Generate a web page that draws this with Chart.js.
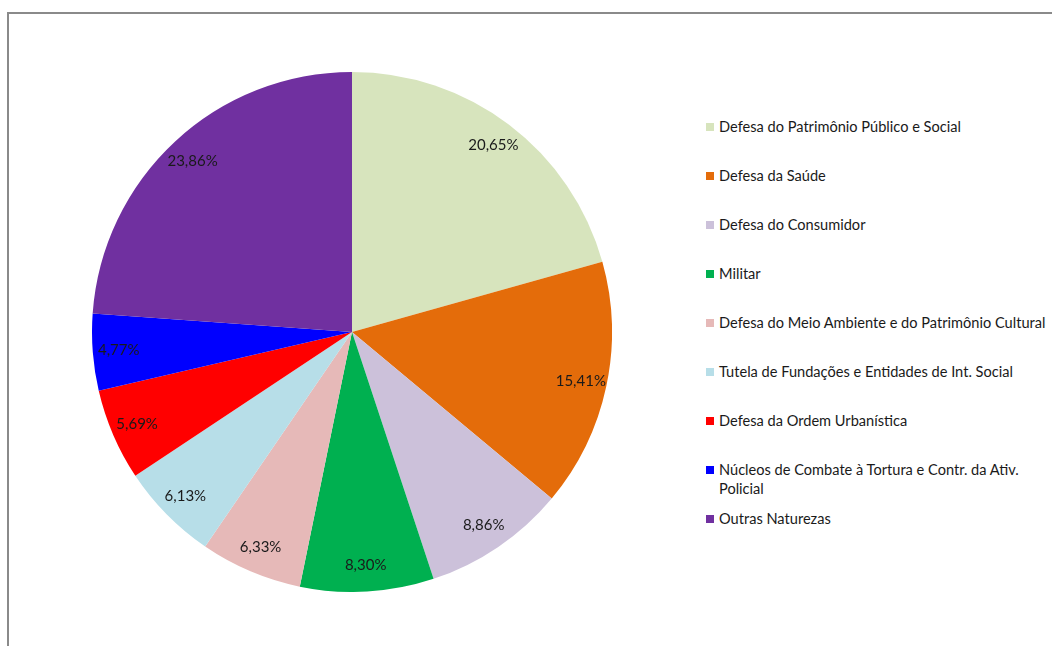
<!DOCTYPE html>
<html>
<head>
<meta charset="utf-8">
<script src="https://cdn.jsdelivr.net/npm/chart.js@4.4.1/dist/chart.umd.min.js"></script>
<style>
  body { margin: 0; background: #fff; width: 1052px; height: 646px; overflow: hidden; position: relative; font-family: Lato, "Open Sans", sans-serif; }
  .frame { position: absolute; left: 7px; top: 12px; right: -10px; bottom: -10px; border-left: 2px solid #8a8a8a; border-top: 2px solid #8a8a8a; }
  .pie { position: absolute; left: 92px; top: 72px; width: 520px; height: 520px; }
  #legend { position: absolute; left: 706px; top: 117px; width: 345px; }
  #legend .item { position: relative; height: 49px; padding-left: 13px; font-size: 14.6px; line-height: 19px; color: #1a1a1a; }
  #legend .box { position: absolute; left: 0; top: 6px; width: 8px; height: 8px; }
</style>
</head>
<body>
<div class="frame"></div>
<div class="pie"><canvas id="naturezaChart"></canvas></div>
<div id="legend"></div>
<script>
// dados da distribuicao por natureza (%)
const categorias = [
  'Defesa do Patrimônio Público e Social',
  'Defesa da Saúde',
  'Defesa do Consumidor',
  'Militar',
  'Defesa do Meio Ambiente e do Patrimônio Cultural',
  'Tutela de Fundações e Entidades de Int. Social',
  'Defesa da Ordem Urbanística',
  'Núcleos de Combate à Tortura e Contr. da Ativ. Policial',
  'Outras Naturezas'
];
const percentuais = [20.65, 15.41, 8.86, 8.30, 6.33, 6.13, 5.69, 4.77, 23.86];
const cores = ['#D7E4BD', '#E46C0A', '#CCC1DA', '#00B050', '#E6B9B8', '#B7DEE8', '#FF0000', '#0000FF', '#7030A0'];

// rotulos dentro das fatias
const rotulosPlugin = {
  id: 'rotulos',
  afterDatasetsDraw(chart) {
    const ctx = chart.ctx;
    const meta = chart.getDatasetMeta(0);
    ctx.save();
    ctx.font = '15px Lato, "Open Sans", sans-serif';
    ctx.fillStyle = '#1a1a1a';
    ctx.textAlign = 'center';
    ctx.textBaseline = 'middle';
    meta.data.forEach((arc, i) => {
      const p = arc.getProps(['x', 'y', 'startAngle', 'endAngle', 'outerRadius'], true);
      const mid = (p.startAngle + p.endAngle) / 2;
      const r = p.outerRadius * 0.9;
      const txt = percentuais[i].toFixed(2).replace('.', ',') + '%';
      ctx.fillText(txt, p.x + Math.cos(mid) * r, p.y + Math.sin(mid) * r);
    });
    ctx.restore();
  }
};

const ctx = document.getElementById('naturezaChart').getContext('2d');
new Chart(ctx, {
  type: 'pie',
  data: {
    labels: categorias,
    datasets: [{
      data: percentuais,
      backgroundColor: cores,
      borderWidth: 0
    }]
  },
  options: {
    responsive: true,
    maintainAspectRatio: false,
    animation: false,
    layout: { padding: 0 },
    plugins: {
      legend: { display: false },
      tooltip: { enabled: false }
    }
  },
  plugins: [rotulosPlugin]
});

// legenda ao lado
const legend = document.getElementById('legend');
categorias.forEach((nome, i) => {
  const item = document.createElement('div');
  item.className = 'item';
  const box = document.createElement('span');
  box.className = 'box';
  box.style.background = cores[i];
  item.appendChild(box);
  item.appendChild(document.createTextNode(nome));
  legend.appendChild(item);
});
</script>
</body>
</html>
